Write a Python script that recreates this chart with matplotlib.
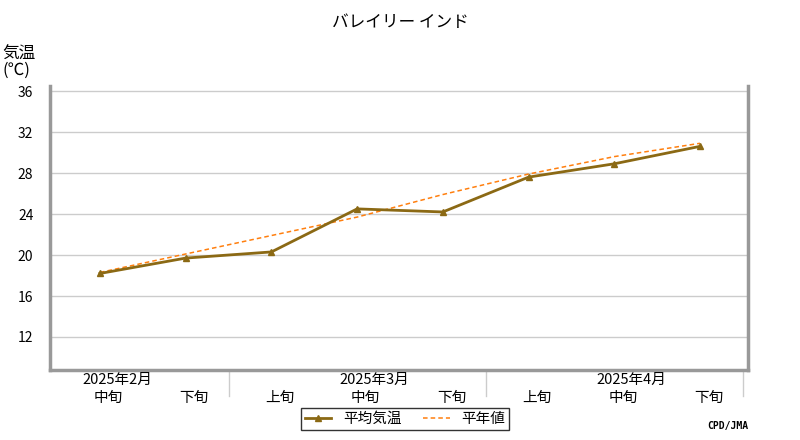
import matplotlib
matplotlib.use("Agg")
import matplotlib.pyplot as plt

plt.rcParams["font.family"] = "Noto Sans CJK JP"

# データ
junk = ["中旬", "下旬", "上旬", "中旬", "下旬", "上旬", "中旬", "下旬"]
months = {0: "2025年2月", 3: "2025年3月", 6: "2025年4月"}
avg_temp = [18.2, 19.7, 20.3, 24.5, 24.2, 27.6, 28.9, 30.6]
normal_temp = [18.3, 20.1, 21.9, 23.7, 25.9, 27.9, 29.6, 30.9]
yticks = [12, 16, 20, 24, 28, 32, 36]

fig = plt.figure(figsize=(8, 4.4), dpi=100)
ax = fig.add_axes([50 / 800, 70 / 440, 698 / 800, 284 / 440])
x = list(range(len(avg_temp)))

ax.plot(x, normal_temp, color="#ff7f0e", linestyle=(0, (3, 2)), linewidth=1.1, label="平年値")
ax.plot(x, avg_temp, color="#8b6914", linewidth=2, marker="^", markersize=5, label="平均気温")

ax.set_xlim(-0.583, 7.56)
ax.set_ylim(8.78, 36.49)
ax.set_yticks(yticks)
ax.tick_params(axis="y", length=0, labelsize=10, pad=12)
ax.grid(axis="y", color="#cccccc", linewidth=1)
ax.set_axisbelow(True)

for s in ["left", "bottom", "right"]:
    ax.spines[s].set_color("#999999")
    ax.spines[s].set_linewidth(2.5)
ax.spines["top"].set_visible(False)

ax.set_xticks([i + 0.1 for i in x])
ax.set_xticklabels(junk, fontsize=10.5)
ax.tick_params(axis="x", length=0, pad=15)
for i, m in months.items():
    ax.text(i + 0.2, -0.01, m, transform=ax.get_xaxis_transform(), ha="center", va="top", fontsize=10.5)
for sx in [1.5, 4.5, 7.5]:
    ax.plot([sx, sx], [0, -0.09], transform=ax.get_xaxis_transform(), color="#cccccc",
            linewidth=1, clip_on=False)

fig.text(0.5, 1 - 22 / 440, "バレイリー インド", ha="center", va="center", fontsize=12)
fig.text(2 / 800, 1 - 62 / 440, "気温\n(℃)", ha="left", va="center", fontsize=12, linespacing=0.9)
fig.text(748 / 800, 1 - 426 / 440, "CPD/JMA", ha="right", va="center", fontsize=7, family="DejaVu Sans Mono", weight="bold")

h, l = ax.get_legend_handles_labels()
fig.legend(h[::-1], l[::-1], loc="center", bbox_to_anchor=(405 / 800, 1 - 419 / 440), ncol=2,
           fontsize=10.5, frameon=True, fancybox=False, edgecolor="black", borderpad=0.3,
           handlelength=1.8, columnspacing=1.5)

fig.savefig("out.png", dpi=100)
